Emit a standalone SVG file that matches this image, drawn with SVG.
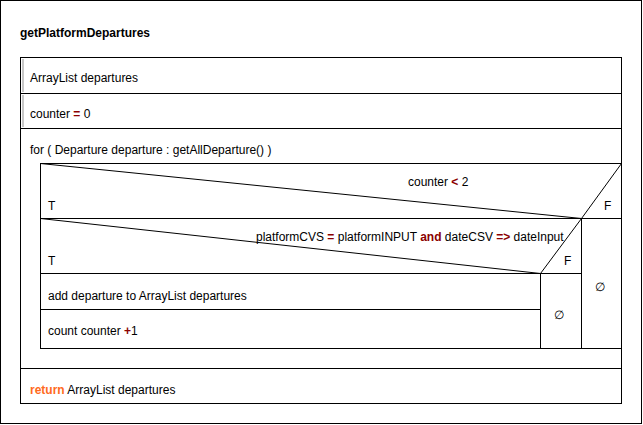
<svg xmlns="http://www.w3.org/2000/svg" width="643" height="425" viewBox="0 0 643 425">
<style>
text{font-family:"Liberation Sans",Arial,sans-serif;font-size:12px;fill:#000}
.b{fill:none;stroke:#000;stroke-width:1}
.op{fill:#8b0000;font-weight:bold}
.kw{fill:#ff6a22;font-weight:bold}
.bar{stroke:#c8c8c8;stroke-width:2}
</style>
<rect x="0" y="0" width="643" height="425" fill="#fff"/>
<rect class="b" x="0.5" y="0.5" width="641" height="423"/>
<text x="20" y="37" font-weight="bold">getPlatformDepartures</text>
<g id="main">
<rect class="b" x="20.5" y="57.5" width="601" height="346"/>
</g>
<g id="decl">
<line class="bar" x1="23" y1="59" x2="23" y2="92"/>
<text x="30" y="82">ArrayList departures</text>
<line class="b" x1="20" y1="93.5" x2="622" y2="93.5"/>
</g>
<g id="init">
<line class="bar" x1="23" y1="95" x2="23" y2="127"/>
<text x="30" y="118">counter <tspan class="op">=</tspan> 0</text>
<line class="b" x1="20" y1="128.5" x2="622" y2="128.5"/>
</g>
<g id="loop">
<text x="30" y="154">for ( Departure departure : getAllDeparture() )</text>
<rect class="b" x="40.5" y="163.5" width="581" height="185"/>
</g>
<g id="if1">
<polyline class="b" points="40.5,163.5 581.5,218.5 621.5,163.5"/>
<line class="b" x1="40" y1="218.5" x2="622" y2="218.5"/>
<line class="b" x1="581.5" y1="218" x2="581.5" y2="348"/>
<text x="408" y="186">counter <tspan class="op">&lt;</tspan> 2</text>
<text x="48" y="210">T</text>
<text x="604" y="210">F</text>
<text x="595" y="291">∅</text>
</g>
<g id="if2">
<polyline class="b" points="40.5,218.5 540.5,273.5 581.5,218.5"/>
<line class="b" x1="40" y1="273.5" x2="582" y2="273.5"/>
<line class="b" x1="540.5" y1="273" x2="540.5" y2="348"/>
<text x="256" y="241">platformCVS <tspan class="op">=</tspan> platformINPUT <tspan class="op">and</tspan> dateCSV <tspan class="op">=&gt;</tspan> dateInput</text>
<text x="48" y="265">T</text>
<text x="564" y="265">F</text>
<text x="554" y="319">∅</text>
</g>
<g id="add">
<text x="48" y="300">add departure to ArrayList departures</text>
<line class="b" x1="40" y1="309.5" x2="541" y2="309.5"/>
</g>
<g id="count">
<text x="48" y="335">count counter <tspan class="op">+</tspan>1</text>
</g>
<g id="ret">
<line class="b" x1="20" y1="368.5" x2="622" y2="368.5"/>
<text x="30" y="394"><tspan class="kw">return</tspan> ArrayList departures</text>
</g>
<g id="connectors"></g>
</svg>
